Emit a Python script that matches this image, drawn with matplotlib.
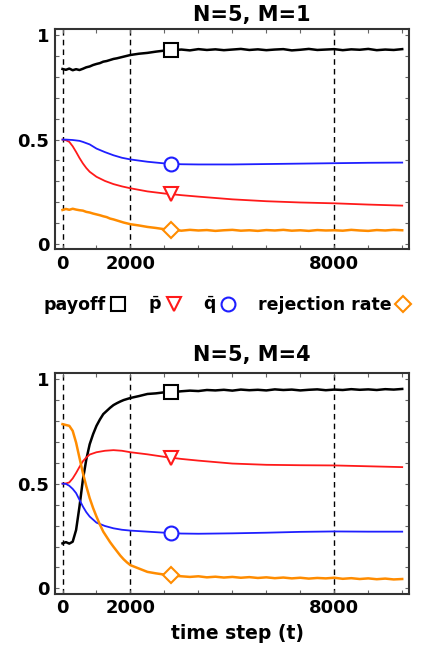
import matplotlib
matplotlib.use('Agg')
import matplotlib.pyplot as plt
from matplotlib.lines import Line2D

# ----------- DATA -------------------------------------
# sample times for the noisy series
t_noisy = [0, 100, 200, 300, 400, 500, 600, 700, 800, 900,
           1000, 1100, 1200, 1300, 1400, 1500, 1600, 1700, 1800, 1900,
           2000, 2250, 2500, 2750, 3000, 3250, 3500, 3750, 4000, 4250,
           4500, 4750, 5000, 5250, 5500, 5750, 6000, 6250, 6500, 6750,
           7000, 7250, 7500, 7750, 8000, 8250, 8500, 8750, 9000, 9250,
           9500, 9750, 10000]
# sample times for the smooth series
t_smooth = [0, 100, 200, 300, 400, 500, 600, 700, 800, 1000, 1250, 1500,
            1750, 2000, 2500, 3000, 3500, 4000, 5000, 6000, 7000, 8000,
            9000, 10000]

# N=5, M=1
payoff_m1 = [0.838, 0.834, 0.840, 0.832, 0.837, 0.833, 0.839, 0.846, 0.850, 0.857,
             0.862, 0.866, 0.873, 0.876, 0.881, 0.886, 0.889, 0.893, 0.897, 0.901,
             0.905, 0.911, 0.915, 0.921, 0.926, 0.928, 0.931, 0.927, 0.933, 0.929,
             0.932, 0.928, 0.931, 0.934, 0.929, 0.932, 0.928, 0.931, 0.933, 0.927,
             0.930, 0.934, 0.929, 0.931, 0.933, 0.928, 0.932, 0.930, 0.934, 0.928,
             0.931, 0.929, 0.933]
reject_m1 = [0.163, 0.168, 0.164, 0.169, 0.165, 0.162, 0.160, 0.154, 0.151, 0.146,
             0.142, 0.138, 0.133, 0.129, 0.122, 0.118, 0.113, 0.108, 0.103, 0.099,
             0.095, 0.089, 0.082, 0.077, 0.071, 0.068, 0.064, 0.068, 0.065, 0.067,
             0.063, 0.066, 0.068, 0.064, 0.066, 0.063, 0.067, 0.065, 0.068, 0.064,
             0.066, 0.063, 0.067, 0.065, 0.066, 0.064, 0.068, 0.065, 0.063, 0.067,
             0.065, 0.068, 0.066]
p_m1 = [0.5, 0.497, 0.489, 0.468, 0.441, 0.412, 0.386, 0.364, 0.346, 0.322, 0.302, 0.287,
        0.276, 0.267, 0.252, 0.242, 0.234, 0.227, 0.214, 0.205, 0.199, 0.195, 0.189, 0.184]
q_m1 = [0.5, 0.5, 0.499, 0.498, 0.496, 0.494, 0.489, 0.483, 0.477, 0.457, 0.440, 0.425,
        0.413, 0.405, 0.394, 0.386, 0.382, 0.381, 0.381, 0.383, 0.385, 0.387, 0.389, 0.39]

# N=5, M=4
payoff_m4 = [0.215, 0.221, 0.214, 0.223, 0.279, 0.391, 0.519, 0.615, 0.688, 0.736,
             0.776, 0.806, 0.832, 0.847, 0.862, 0.875, 0.884, 0.892, 0.899, 0.904,
             0.909, 0.918, 0.928, 0.931, 0.936, 0.937, 0.941, 0.944, 0.942, 0.947,
             0.945, 0.948, 0.944, 0.949, 0.946, 0.948, 0.945, 0.950, 0.947, 0.949,
             0.945, 0.948, 0.950, 0.946, 0.949, 0.947, 0.951, 0.948, 0.950, 0.947,
             0.951, 0.949, 0.952]
reject_m4 = [0.784, 0.780, 0.776, 0.752, 0.696, 0.623, 0.551, 0.488, 0.431, 0.384,
             0.343, 0.305, 0.271, 0.246, 0.221, 0.199, 0.178, 0.157, 0.139, 0.124,
             0.111, 0.095, 0.079, 0.072, 0.066, 0.062, 0.058, 0.055, 0.058, 0.053,
             0.056, 0.052, 0.055, 0.051, 0.054, 0.050, 0.053, 0.049, 0.052, 0.048,
             0.051, 0.047, 0.050, 0.048, 0.051, 0.046, 0.049, 0.045, 0.048, 0.044,
             0.047, 0.043, 0.045]
p_m4 = [0.5, 0.501, 0.506, 0.525, 0.551, 0.580, 0.607, 0.625, 0.639, 0.650, 0.657, 0.660,
        0.657, 0.650, 0.640, 0.628, 0.618, 0.610, 0.596, 0.590, 0.588, 0.587, 0.583, 0.579]
q_m4 = [0.5, 0.499, 0.490, 0.475, 0.455, 0.423, 0.391, 0.364, 0.343, 0.314, 0.298, 0.287,
        0.280, 0.276, 0.271, 0.266, 0.262, 0.261, 0.263, 0.266, 0.270, 0.272, 0.271, 0.271]

# marker positions (t, payoff, p, q, rejection)
mark_t = 3200
marks_m1 = [0.927, 0.240, 0.383, 0.068]
marks_m4 = [0.937, 0.623, 0.263, 0.063]

titles = ['N=5, M=1', 'N=5, M=4']
vlines = [0, 2000, 8000]
# -------------------------------------------------------

BLACK = 'black'
RED = '#ff1a1a'
BLUE = '#1f1fff'
ORANGE = '#ff8c00'
FRAME = '#333333'


def draw_panel(ax, payoff, reject, p, q, marks):
    for x in vlines:
        ax.axvline(x, color='black', lw=1.0, ls=(0, (4, 3)), zorder=1)

    ax.plot(t_noisy, payoff, color=BLACK, lw=1.8, zorder=3)
    ax.plot(t_smooth, p, color=RED, lw=1.3, zorder=3)
    ax.plot(t_smooth, q, color=BLUE, lw=1.3, zorder=3)
    ax.plot(t_noisy, reject, color=ORANGE, lw=1.8, zorder=3)

    kw = dict(markersize=10, markerfacecolor='white', markeredgewidth=1.5, zorder=4)
    ax.plot([mark_t], [marks[0]], marker='s', color=BLACK, **kw)
    ax.plot([mark_t], [marks[1]], marker='v', color=RED, **kw)
    ax.plot([mark_t], [marks[2]], marker='o', color=BLUE, **kw)
    ax.plot([mark_t], [marks[3]], marker='D', color=ORANGE, markersize=8,
            markerfacecolor='white', markeredgewidth=1.5, zorder=4)

    ax.set_xlim(-225, 10210)
    ax.set_ylim(-0.025, 1.03)

    xt = list(range(0, 10001, 1000))
    ax.set_xticks(xt)
    ax.set_xticklabels([str(x) if x in (0, 2000, 8000) else '' for x in xt])
    yt = [i / 10 for i in range(11)]
    ax.set_yticks(yt)
    ylab = {0: '0', 5: '0.5', 10: '1'}
    ax.set_yticklabels([ylab.get(i, '') for i in range(11)])

    ax.tick_params(direction='in', length=3, width=0.8, color='#666666',
                   top=True, right=True, labelsize=13, pad=4)
    for lab in ax.get_xticklabels() + ax.get_yticklabels():
        lab.set_fontweight('bold')
    for s in ax.spines.values():
        s.set_color(FRAME)
        s.set_linewidth(1.5)


def main():
    plt.rcParams['font.family'] = 'DejaVu Sans'
    plt.rcParams['mathtext.fontset'] = 'dejavusans'

    fig = plt.figure(figsize=(4.22, 6.56), dpi=100)
    ax1 = fig.add_axes([0.130, 0.620, 0.840, 0.336])
    ax2 = fig.add_axes([0.130, 0.095, 0.840, 0.337])

    draw_panel(ax1, payoff_m1, reject_m1, p_m1, q_m1, marks_m1)
    draw_panel(ax2, payoff_m4, reject_m4, p_m4, q_m4, marks_m4)

    fig.text(0.597, 0.977, titles[0], ha='center', va='center',
             fontsize=15, fontweight='bold')
    fig.text(0.597, 0.459, titles[1], ha='center', va='center',
             fontsize=15, fontweight='bold')
    fig.text(0.562, 0.035, 'time step (t)', ha='center', va='center',
             fontsize=13.5, fontweight='bold')

    # legend
    mk = dict(linestyle='none', markerfacecolor='white', markeredgewidth=1.5)
    handles = [
        Line2D([], [], marker='s', color=BLACK, markersize=10, **mk),
        Line2D([], [], marker='v', color=RED, markersize=10, **mk),
        Line2D([], [], marker='o', color=BLUE, markersize=10, **mk),
        Line2D([], [], marker='D', color=ORANGE, markersize=8, **mk),
    ]
    labels = ['payoff', r'$\bar{\mathbf{p}}$', r'$\bar{\mathbf{q}}$', 'rejection rate']
    fig.legend(handles, labels, loc='center', bbox_to_anchor=(0.538, 0.535),
               ncol=4, frameon=False, markerfirst=False, handlelength=0.8,
               handletextpad=0.3, columnspacing=1.3,
               prop={'weight': 'bold', 'size': 12.5})

    fig.savefig('out.png', dpi=100)


if __name__ == '__main__':
    main()
